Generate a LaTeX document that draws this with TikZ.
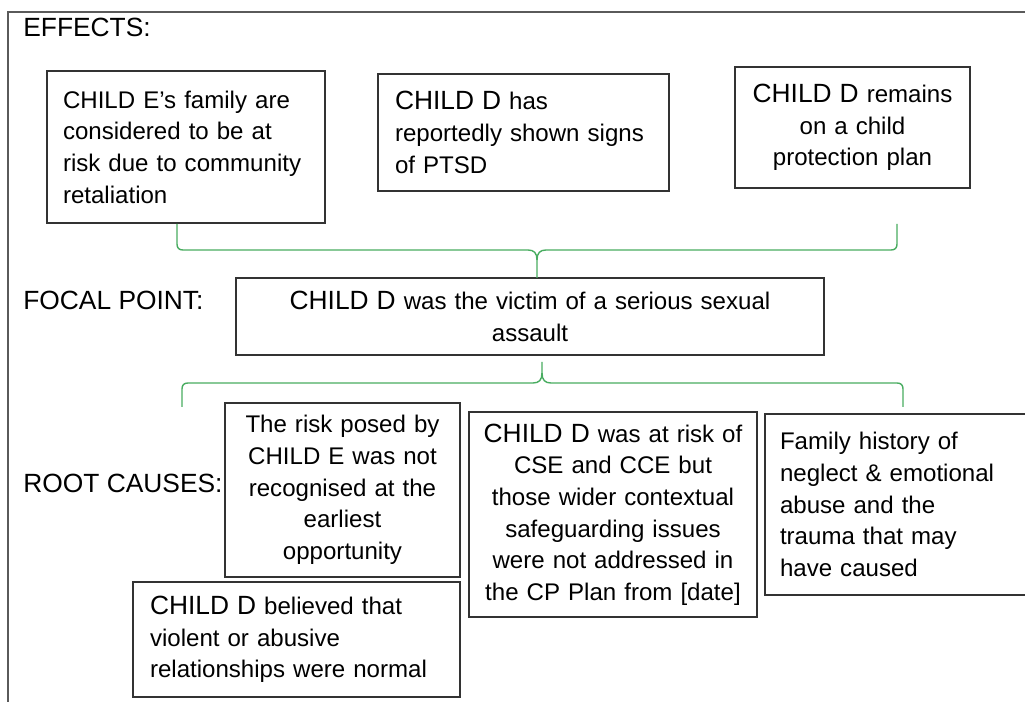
\documentclass[tikz,border=0pt]{standalone}
\usepackage{fontspec}
\setmainfont{Liberation Sans}
\usepackage{tikz}
\usetikzlibrary{calc}
\definecolor{braceGreen}{RGB}{72, 172, 96}
\definecolor{frameGrey}{RGB}{90, 90, 90}
\newcommand{\childD}{{\fontsize{15}{18}\selectfont CHILD D}}

\begin{document}
\begin{tikzpicture}[x=0.02cm, y=-0.02cm,
    card/.style={rectangle, draw=black!80, line width=0.8pt, inner sep=0pt,
      font=\fontsize{13.7}{18}\selectfont},
    heading/.style={anchor=base west, inner sep=0pt, font=\fontsize{15}{18}\selectfont},
    bracket/.style={draw=braceGreen, line width=0.8pt}
  ]
    \useasboundingbox (0,0) rectangle (1025,702);
    \draw[frameGrey, line width=0.8pt] (1030,12) -- (8,12) -- (8,710);

    % section titles
    \node[heading] (lblEffects) at (23,37) {EFFECTS:};
    \node[heading] (lblFocal) at (23,310) {FOCAL POINT:};
    \node[heading] (lblRoot) at (23,493) {ROOT CAUSES:};

    % effects
    \node[card, minimum width=5.56cm, minimum height=3.04cm, text width=4.92cm, align=left]
      (effFamily) at (186,147) {CHILD E’s family are\\ considered to be at\\ risk due to community\\ retaliation};
    \node[card, minimum width=5.82cm, minimum height=2.34cm, text width=5.14cm, align=left]
      (effPtsd) at (523.5,132.5) {\childD{} has\\ reportedly shown signs\\ of PTSD};
    \node[card, minimum width=4.7cm, minimum height=2.42cm, text width=4.3cm, align=center]
      (effPlan) at (852.5,127.5) {\childD{} remains\\ on a child\\ protection plan};

    % focal point
    \node[card, minimum width=11.76cm, minimum height=1.54cm, text width=11cm, align=center]
      (focal) at (530,316.5) {\childD{} was the victim of a serious sexual\\ assault};

    % root causes
    \node[card, minimum width=4.7cm, minimum height=3.48cm, text width=4.4cm, align=center]
      (rootRisk) at (342.5,490) {The risk posed by\\ CHILD E was not\\ recognised at the\\ earliest\\ opportunity};
    \node[card, minimum width=6.54cm, minimum height=2.3cm, text width=5.86cm, align=left]
      (rootBelief) at (296.5,639.5) {\childD{} believed that\\ violent or abusive\\ relationships were normal};
    \node[card, minimum width=5.76cm, minimum height=4.1cm, text width=5.4cm, align=center]
      (rootCse) at (613,514.5) {\childD{} was at risk of\\ CSE and CCE but\\ those wider contextual\\ safeguarding issues\\ were not addressed in\\ the CP Plan from [date]};
    \node[card, minimum width=5.6cm, minimum height=3.62cm, text width=5cm, align=left]
      (rootFamily) at (905,504.5) {Family history of\\ neglect \& emotional\\ abuse and the\\ trauma that may\\ have caused};

    % brace from effects to focal point
    \coordinate (topL) at (177,224);
    \coordinate (topR) at (897,224);
    \coordinate (topMid) at (537,250);
    \coordinate (topTip) at (537,278);
    \draw[bracket] (topL) -- ($(topL |- topMid)+(0,-6)$)
      .. controls ($(topL |- topMid)+(0,-2)$) and ($(topL |- topMid)+(2,0)$) .. ($(topL |- topMid)+(6,0)$)
      -- ($(topMid)+(-9,0)$)
      .. controls ($(topMid)+(-3,0)$) and ($(topMid)+(0,3)$) .. ($(topMid)+(0,10)$) -- (topTip);
    \draw[bracket] (topR) -- ($(topR |- topMid)+(0,-6)$)
      .. controls ($(topR |- topMid)+(0,-2)$) and ($(topR |- topMid)+(-2,0)$) .. ($(topR |- topMid)+(-6,0)$)
      -- ($(topMid)+(9,0)$)
      .. controls ($(topMid)+(3,0)$) and ($(topMid)+(0,3)$) .. ($(topMid)+(0,10)$);

    % brace from focal point to root causes
    \coordinate (botL) at (182,407);
    \coordinate (botR) at (903,407);
    \coordinate (botMid) at (542,383);
    \coordinate (botTip) at (542,362);
    \draw[bracket] (botL) -- ($(botL |- botMid)+(0,6)$)
      .. controls ($(botL |- botMid)+(0,2)$) and ($(botL |- botMid)+(2,0)$) .. ($(botL |- botMid)+(6,0)$)
      -- ($(botMid)+(-9,0)$)
      .. controls ($(botMid)+(-3,0)$) and ($(botMid)+(0,-3)$) .. ($(botMid)+(0,-10)$) -- (botTip);
    \draw[bracket] (botR) -- ($(botR |- botMid)+(0,6)$)
      .. controls ($(botR |- botMid)+(0,2)$) and ($(botR |- botMid)+(-2,0)$) .. ($(botR |- botMid)+(-6,0)$)
      -- ($(botMid)+(9,0)$)
      .. controls ($(botMid)+(3,0)$) and ($(botMid)+(0,-3)$) .. ($(botMid)+(0,-10)$);
\end{tikzpicture}
\end{document}
